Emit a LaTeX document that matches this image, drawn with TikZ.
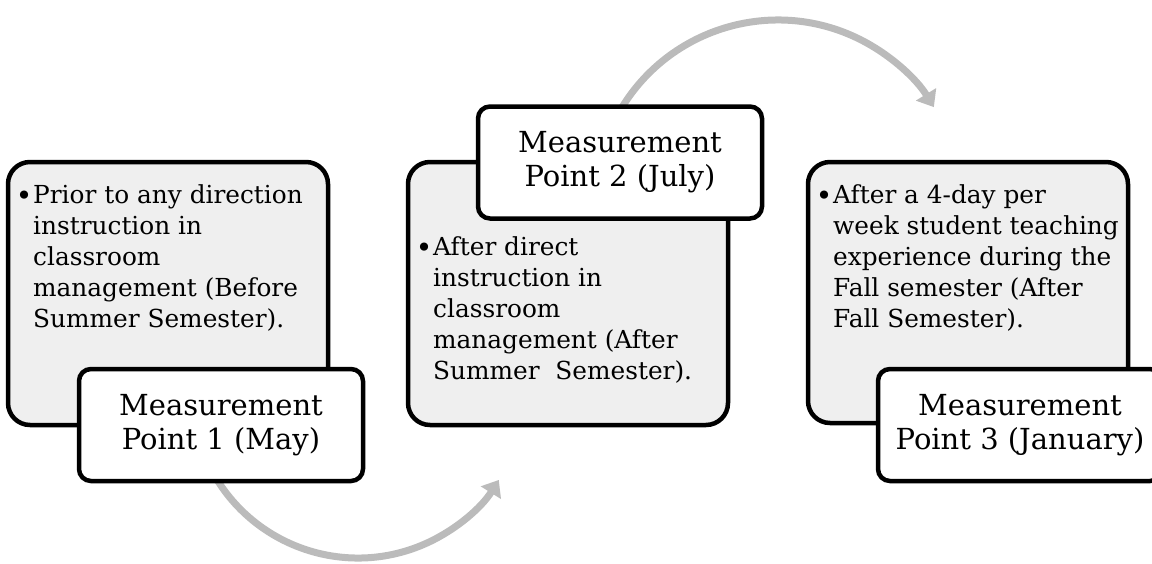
\documentclass[tikz,border=0pt]{standalone}
\usepackage{fontspec}
\setmainfont{DejaVu Serif}
\usetikzlibrary{arrows.meta}
\definecolor{boxgray}{HTML}{EFEFEF}
\definecolor{arcgray}{HTML}{BBBBBB}
\newcommand{\bulletmark}{\makebox[9pt][l]{\makebox[0pt][c]{\raisebox{-2.5pt}{\fontsize{28}{28}\selectfont •}}}}
\begin{document}
\begin{tikzpicture}[x=1pt,y=1pt,
  graybox/.style={draw=black, line width=4.5pt, fill=boxgray, rounded corners=22pt, inner sep=0pt},
  whitebox/.style={draw=black, line width=4.5pt, fill=white, rounded corners=12pt, inner sep=0pt,
     minimum width=284pt, minimum height=112pt, align=center, font=\fontsize{29}{34}\selectfont},
  bodytext/.style={anchor=north west, inner sep=0pt, font=\fontsize{24.8}{31}\selectfont},
  flowarc/.style={draw=arcgray, line width=7pt, -{Triangle[length=15pt,width=23pt]}}]
\useasboundingbox (0,0) rectangle (1152,-563);
% arcs (behind boxes)
\coordinate (c1) at (358,-392);
\coordinate (c2) at (778,-203);
\draw[flowarc] ([shift={(205:166)}]c1) arc (205:328:166);
\draw[flowarc] ([shift={(152:183)}]c2) arc (152:31.6:183);
% step 1
\draw[graybox] (8,-162) rectangle (328,-425);
\node[bodytext] (t1) at (24,-181.3) {\begin{tabular}{@{}l@{}l@{}}
\bulletmark & Prior to any direction\\
 & instruction in\\
 & classroom\\
 & management (Before\\
 & Summer Semester).
\end{tabular}};
\node[whitebox] (m1) at (221,-425) {Measurement\\Point 1 (May)};
% step 2
\draw[graybox] (408,-162) rectangle (728,-425);
\node[bodytext] (t2) at (424,-233.3) {\begin{tabular}{@{}l@{}l@{}}
\bulletmark & After direct\\
 & instruction in\\
 & classroom\\
 & management (After\\
 & Summer~ Semester).
\end{tabular}};
\node[whitebox] (m2) at (620,-162.5) {Measurement\\Point 2 (July)};
% step 3
\draw[graybox] (808,-162) rectangle (1128,-423);
\node[bodytext] (t3) at (824,-181.3) {\begin{tabular}{@{}l@{}l@{}}
\bulletmark & After a 4-day per\\
 & week student teaching\\
 & experience during the\\
 & Fall semester (After\\
 & Fall Semester).
\end{tabular}};
\node[whitebox] (m3) at (1020,-425) {Measurement\\Point 3 (January)};
\end{tikzpicture}
\end{document}
